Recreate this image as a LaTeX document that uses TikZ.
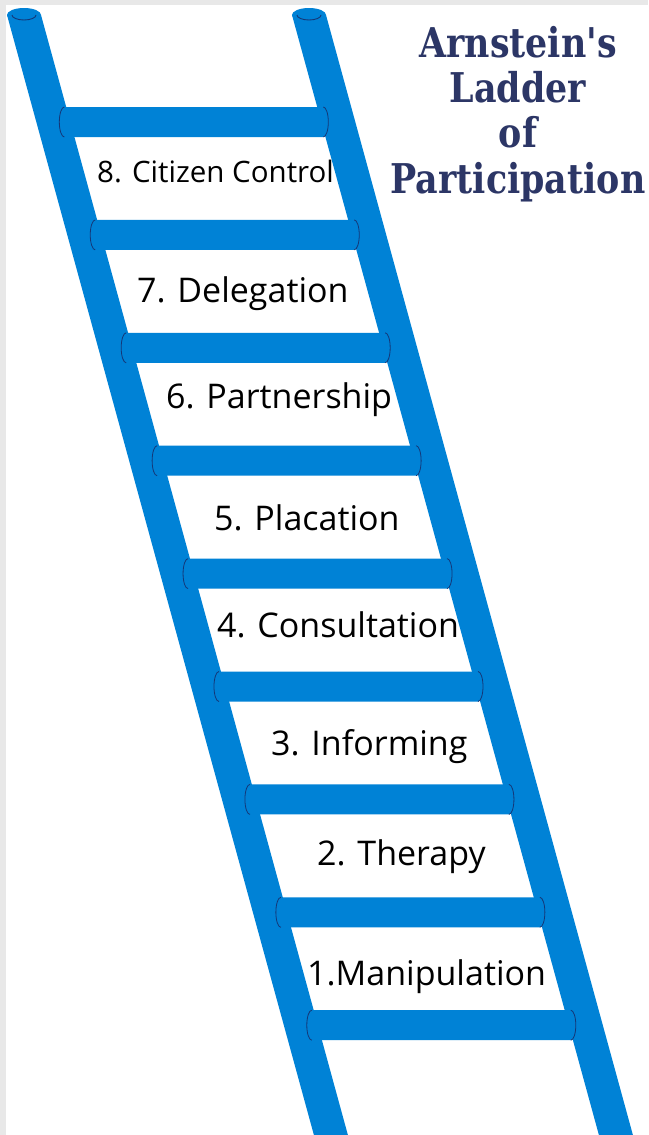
\documentclass[tikz,border=0pt]{standalone}
\usepackage{fontspec}
\setmainfont{Open Sans}
\newfontfamily\labelfont{Open Sans}
\newfontfamily\titlefont{DejaVu Serif}
\definecolor{ladderblue}{RGB}{0,130,214}
\definecolor{edgeblue}{RGB}{20,55,120}
\definecolor{titlenavy}{RGB}{44,54,102}
\definecolor{framegrey}{RGB}{232,232,232}
\tikzset{
  rail/.style={fill=ladderblue, draw=none},
  rung/.style={fill=ladderblue, draw=none},
  rungedge/.style={draw=edgeblue, line width=0.8pt},
  capedge/.style={draw=edgeblue, line width=0.9pt},
  steplabel/.style={anchor=base west, inner sep=0pt, text=black, font=\labelfont\fontsize{34}{40}\selectfont},
  titleline/.style={anchor=base, inner sep=0pt, text=titlenavy, font=\titlefont\bfseries\fontsize{41}{48}\selectfont}
}
\begin{document}
\begin{tikzpicture}[x=1pt,y=-1pt]
\useasboundingbox (0,0) rectangle (648,1135);
\fill[white] (0,0) rectangle (648,1135);
% grey frame
\fill[framegrey] (0,0) rectangle (648,5);
\fill[framegrey] (0,0) rectangle (6,1135);
% rails
\fill[rail] (7,15) -- (41,15) -- (347.9,1135) -- (313.9,1135) -- cycle;
\fill[rail] (24,15) ellipse[x radius=17, y radius=7];
\draw[capedge] (12,15) arc[start angle=180, end angle=0, x radius=12, y radius=5];
\fill[rail] (292,15) -- (326,15) -- (632.9,1135) -- (598.9,1135) -- cycle;
\fill[rail] (309,15) ellipse[x radius=17, y radius=7];
\draw[capedge] (297,15) arc[start angle=180, end angle=0, x radius=12, y radius=5];
% rungs
\foreach \k in {0,...,8}{
  \pgfmathsetmacro\yc{122+112.9*\k}
  \pgfmathsetmacro\xl{24+0.274*(\yc-15)+6}
  \pgfmathsetmacro\xr{309+0.274*(\yc-15)-10}
  \fill[rung] (\xl+5,\yc-15) -- (\xr-5,\yc-15)
     arc[start angle=-90, end angle=90, x radius=5, y radius=15]
     -- (\xl+5,\yc+15)
     arc[start angle=90, end angle=270, x radius=5, y radius=15] -- cycle;
  \draw[rungedge] (\xr-5,\yc-15) arc[start angle=-90, end angle=90, x radius=5, y radius=15];
  \draw[rungedge] (\xl+5,\yc+15) arc[start angle=90, end angle=270, x radius=5, y radius=15];
}
% labels
\node[steplabel, font=\labelfont\fontsize{29.5}{34}\selectfont] (s8) at (97,182) {8. Citizen Control};
\node[steplabel] (s7) at (137,302) {7. Delegation};
\node[steplabel] (s6) at (166,408) {6. Partnership};
\node[steplabel] (s5) at (214,530) {5. Placation};
\node[steplabel] (s4) at (217,637) {4. Consultation};
\node[steplabel] (s3) at (271,755) {3. Informing};
\node[steplabel] (s2) at (317,865) {2. Therapy};
\node[steplabel] (s1) at (307,985) {1.Manipulation};
% title
\node[titleline] (t1) at (518,57) {\scalebox{0.85}[1]{Arnstein's}};
\node[titleline] (t2) at (518,102) {\scalebox{0.85}[1]{Ladder}};
\node[titleline] (t3) at (518,147) {\scalebox{0.85}[1]{of}};
\node[titleline] (t4) at (518,193) {\scalebox{0.85}[1]{Participation}};
\end{tikzpicture}
\end{document}
